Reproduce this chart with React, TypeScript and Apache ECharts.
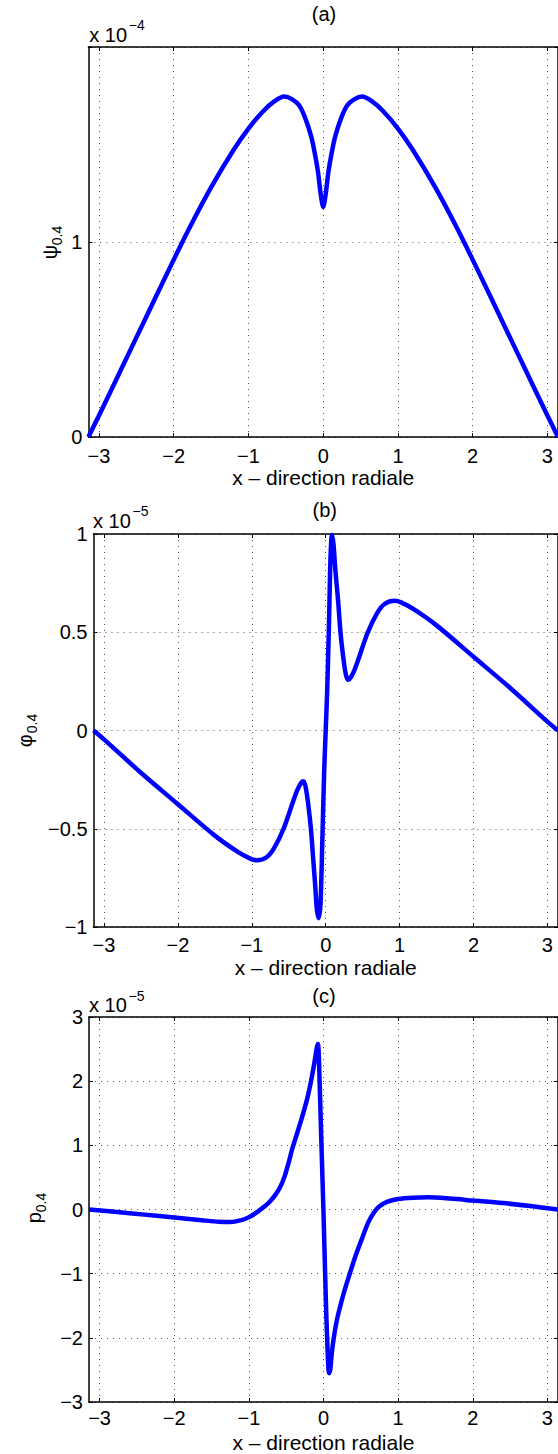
import React, { useEffect, useRef } from 'react';
import * as echarts from 'echarts';

// ---------- data ----------
const X_TICKS = [-3, -2, -1, 0, 1, 2, 3];
const X_MIN = -3.1416;
const X_MAX = 3.1416;

// (a) psi_0.4  (units of 1e-4)
const PSI_X = [-3.1416, -3.0, -2.7, -2.4, -2.1, -1.8, -1.5, -1.2, -1.0, -0.8, -0.65, -0.52, -0.42, -0.32, -0.24, -0.16, -0.11, -0.07, -0.035, 0, 0.035, 0.07, 0.11, 0.16, 0.24, 0.32, 0.42, 0.52, 0.65, 0.8, 1.0, 1.2, 1.5, 1.8, 2.1, 2.4, 2.7, 3.0, 3.1416];
const PSI_Y = [0, 0.11, 0.35, 0.59, 0.83, 1.064, 1.28, 1.472, 1.582, 1.672, 1.722, 1.746, 1.733, 1.70, 1.635, 1.54, 1.45, 1.36, 1.25, 1.18, 1.25, 1.36, 1.45, 1.54, 1.635, 1.70, 1.733, 1.746, 1.722, 1.672, 1.582, 1.472, 1.28, 1.064, 0.83, 0.59, 0.35, 0.11, 0];

// (b) phi_0.4  (units of 1e-5)
const PHI_X = [-3.1416, -3.0, -2.5, -2.0, -1.5, -1.2, -1.02, -0.93, -0.8, -0.7, -0.57, -0.44, -0.38, -0.33, -0.30, -0.27, -0.235, -0.2, -0.168, -0.14, -0.12, -0.095, -0.07, -0.045, -0.02, 0, 0.02, 0.045, 0.065, 0.085, 0.105, 0.13, 0.168, 0.2, 0.235, 0.27, 0.30, 0.33, 0.38, 0.44, 0.57, 0.7, 0.8, 0.93, 1.02, 1.2, 1.5, 2.0, 2.5, 3.0, 3.1416];
const PHI_Y = [0, -0.045, -0.215, -0.375, -0.535, -0.615, -0.652, -0.66, -0.645, -0.60, -0.50, -0.36, -0.30, -0.265, -0.258, -0.29, -0.38, -0.50, -0.66, -0.80, -0.91, -0.955, -0.88, -0.55, -0.2, 0, 0.2, 0.55, 0.88, 0.995, 0.95, 0.82, 0.66, 0.50, 0.38, 0.29, 0.258, 0.265, 0.30, 0.36, 0.50, 0.60, 0.645, 0.66, 0.652, 0.615, 0.535, 0.375, 0.215, 0.045, 0];

// (c) p_0.4  (units of 1e-5)
const P_X = [-3.1416, -2.8, -2.4, -2.0, -1.6, -1.4, -1.25, -1.1, -1.0, -0.9, -0.8, -0.73, -0.65, -0.58, -0.52, -0.46, -0.42, -0.35, -0.284, -0.22, -0.172, -0.12, -0.09, -0.075, -0.06, -0.03, 0, 0.03, 0.05, 0.075, 0.09, 0.11, 0.14, 0.18, 0.23, 0.29, 0.36, 0.43, 0.52, 0.6, 0.68, 0.75, 0.85, 1.0, 1.2, 1.4, 1.7, 2.0, 2.4, 2.8, 3.1416];
const P_Y = [0, -0.035, -0.08, -0.125, -0.17, -0.19, -0.195, -0.165, -0.12, -0.05, 0.04, 0.11, 0.22, 0.35, 0.52, 0.76, 0.94, 1.2, 1.45, 1.72, 1.97, 2.3, 2.52, 2.58, 2.3, 1.1, -0.05, -1.35, -2.05, -2.55, -2.5, -2.25, -1.98, -1.72, -1.48, -1.23, -0.97, -0.72, -0.44, -0.2, -0.04, 0.05, 0.12, 0.165, 0.185, 0.19, 0.17, 0.14, 0.10, 0.05, 0];

const TITLES = ['(a)', '(b)', '(c)'];
const X_NAME = 'x \u2013 direction radiale';
const Y_NAMES = ['\u03c8', '\u03c6', 'p'];
const Y_SUB = '0.4';
const EXPONENTS = ['\u22124', '\u22125', '\u22125'];

const FONT = "'Liberation Sans', Arial, Helvetica, sans-serif";

function fmt(v: number): string {
  return String(v).replace('-', '\u2212');
}

export default function App() {
  const ref = useRef<HTMLDivElement>(null);

  useEffect(() => {
    const el = ref.current!;
    const chart = echarts.init(el, null, { renderer: 'svg', width: 558, height: 1454 });

    const panels = [
      { left: 88.4, top: 47, width: 471.2, height: 390, yMin: 0, yMax: 2, yInt: 1, hideTop: true, lblMargin: 9, xs: PSI_X, ys: PSI_Y,
        title: [324, 14], exp: [89.3, 34.5], yl: [50, 242.5] },
      { left: 93.5, top: 534, width: 464.4, height: 393, yMin: -1, yMax: 1, yInt: 0.5, hideTop: false, lblMargin: 8, xs: PHI_X, ys: PHI_Y,
        title: [324.7, 510], exp: [93, 520.5], yl: [25, 730.5] },
      { left: 89, top: 1017, width: 471.2, height: 387, yMin: -3, yMax: 3, yInt: 1, hideTop: false, lblMargin: 6, xs: P_X, ys: P_Y,
        title: [324, 996], exp: [89, 1005], yl: [34, 1208] },
    ];

    const axisLineStyle = { color: '#000', width: 1.5 };
    const gridLineStyle = { color: '#555', width: 1, type: [1, 5] as any };
    const tickStyle = { color: '#000', width: 1 };

    const grids: any[] = [];
    const xAxes: any[] = [];
    const yAxes: any[] = [];
    const series: any[] = [];
    const graphics: any[] = [];

    panels.forEach((p, i) => {
      grids.push({ left: p.left, top: p.top, width: p.width, height: p.height, containLabel: false });
      xAxes.push({
        type: 'value', gridIndex: i, position: 'bottom', min: X_MIN, max: X_MAX,
        name: X_NAME, nameLocation: 'middle', nameGap: 30,
        nameTextStyle: { fontFamily: FONT, fontSize: 21, color: '#000' },
        axisLine: { show: true, onZero: false, lineStyle: axisLineStyle },
        axisTick: { show: true, inside: true, length: 4, customValues: X_TICKS, lineStyle: tickStyle },
        axisLabel: { show: true, margin: p.lblMargin, customValues: X_TICKS, fontFamily: FONT, fontSize: 20, color: '#000', formatter: (v: number) => fmt(v) },
        splitLine: { show: true, lineStyle: gridLineStyle },
      });
      xAxes.push({
        type: 'value', gridIndex: i, position: 'top', min: X_MIN, max: X_MAX,
        axisLine: { show: true, onZero: false, lineStyle: axisLineStyle },
        axisTick: { show: true, inside: true, length: 4, customValues: X_TICKS, lineStyle: tickStyle },
        axisLabel: { show: false },
        splitLine: { show: false },
      });
      yAxes.push({
        type: 'value', gridIndex: i, position: 'left', min: p.yMin, max: p.yMax, interval: p.yInt,
        axisLine: { show: true, onZero: false, lineStyle: axisLineStyle },
        axisTick: { show: true, inside: true, length: 4, lineStyle: tickStyle },
        axisLabel: {
          show: true, margin: 6, fontFamily: FONT, fontSize: 20, color: '#000',
          formatter: (v: number) => (p.hideTop && v === p.yMax ? '' : fmt(v)),
        },
        splitLine: { show: true, lineStyle: gridLineStyle },
      });
      yAxes.push({
        type: 'value', gridIndex: i, position: 'right', min: p.yMin, max: p.yMax, interval: p.yInt,
        axisLine: { show: true, onZero: false, lineStyle: axisLineStyle },
        axisTick: { show: true, inside: true, length: 4, lineStyle: tickStyle },
        axisLabel: { show: false },
        splitLine: { show: false },
      });
      series.push({
        type: 'line', xAxisIndex: i * 2, yAxisIndex: i * 2,
        data: p.xs.map((x, k) => [x, p.ys[k]]),
        showSymbol: false, symbol: 'none', smooth: 0.3,
        lineStyle: { color: '#0000ff', width: 4.5 },
        z: 3,
      });

      graphics.push({
        type: 'text', x: p.title[0], y: p.title[1],
        style: { text: TITLES[i], fontFamily: FONT, fontSize: 20, fill: '#000', align: 'center', verticalAlign: 'middle', textAlign: 'center', textVerticalAlign: 'middle' },
      });
      graphics.push({
        type: 'text', x: p.exp[0], y: p.exp[1],
        style: { text: 'x 10', fontFamily: FONT, fontSize: 20, fill: '#000', align: 'left', verticalAlign: 'middle', textAlign: 'left', textVerticalAlign: 'middle' },
      });
      graphics.push({
        type: 'text', x: p.exp[0] + 39.5, y: p.exp[1] - 9.5,
        style: { text: EXPONENTS[i], fontFamily: FONT, fontSize: 14, fill: '#000', align: 'left', verticalAlign: 'middle', textAlign: 'left', textVerticalAlign: 'middle' },
      });
      const mainW = i === 2 ? 11 : 14;
      const total = mainW + 19.5;
      graphics.push({
        type: 'group', x: p.yl[0], y: p.yl[1], rotation: Math.PI / 2,
        children: [
          { type: 'text', x: -total / 2, y: 0,
            style: { text: Y_NAMES[i], fontFamily: FONT, fontSize: 20, fill: '#000', align: 'left', verticalAlign: 'middle', textAlign: 'left', textVerticalAlign: 'middle' } },
          { type: 'text', x: -total / 2 + mainW, y: 7,
            style: { text: Y_SUB, fontFamily: FONT, fontSize: 14, fill: '#000', align: 'left', verticalAlign: 'middle', textAlign: 'left', textVerticalAlign: 'middle' } },
        ],
      });
    });

    chart.setOption({
      animation: false,
      backgroundColor: '#ffffff',
      grid: grids,
      xAxis: xAxes,
      yAxis: yAxes,
      series,
      graphic: { elements: graphics },
    });

    return () => chart.dispose();
  }, []);

  return <div ref={ref} style={{ position: 'absolute', left: 0, top: 0, width: 558, height: 1454, background: '#fff' }} />;
}
